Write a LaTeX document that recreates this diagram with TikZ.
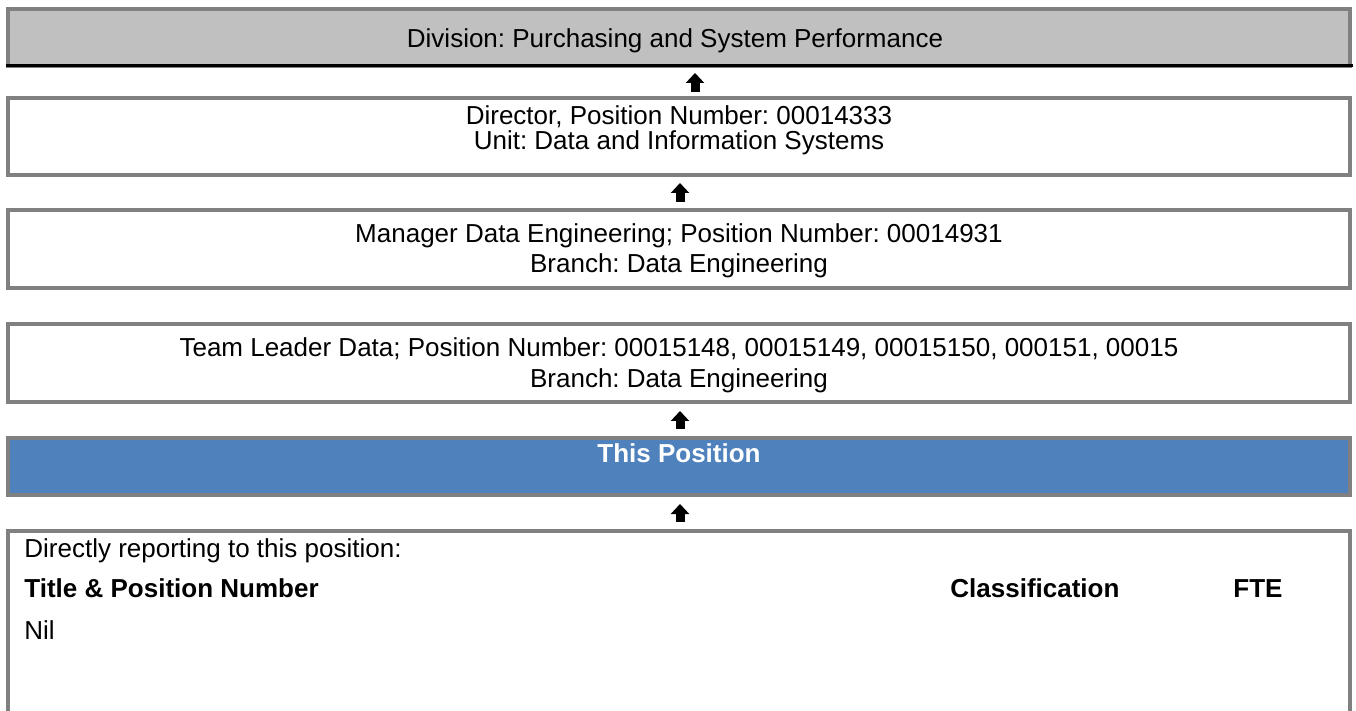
\documentclass[tikz,border=0pt]{standalone}
\usepackage{fontspec}
\setmainfont{Liberation Sans}
\usetikzlibrary{arrows.meta}
\definecolor{boxgray}{RGB}{128,128,128}
\definecolor{divfill}{RGB}{192,192,192}
\definecolor{posblue}{RGB}{79,129,189}
\frenchspacing

\tikzset{
  box/.style={draw=boxgray, line width=2pt, minimum width=671pt, inner sep=0pt},
  txt/.style={inner sep=0pt, anchor=base, font=\fontsize{13}{15}\selectfont},
  bold/.style={font=\fontsize{13}{15}\selectfont\bfseries},
  uparrow/.style={line width=4.5pt, -{Triangle[width=9pt,length=5pt]}, shorten <=3pt, shorten >=3pt}
}

\begin{document}
\begin{tikzpicture}[x=0.5pt, y=-0.5pt]
\useasboundingbox (0,0) rectangle (1356,711);
% boxes
\node[box, fill=divfill, minimum height=28.5pt] (div) at (679,37.5) {};
\draw[line width=1.5pt] ([yshift=1pt]div.south west) -- ([xshift=0.5pt,yshift=1pt]div.south east);
\node[box, minimum height=38.25pt] (dir) at (679,136.75) {};
\node[box, minimum height=39pt] (mgr) at (679,249) {};
\node[box, minimum height=39pt] (tl) at (679,363) {};
\node[box, fill=posblue, minimum height=28.5pt] (pos) at (679,466.5) {};
\node[box, minimum height=114.5pt] (rep) at (679,645.5) {};

% texts
\node[txt] (divtext) at (675,47.5) {Division: Purchasing and System Performance};
\node[txt] (dir1) at (679,125) {Director, Position Number: 00014333};
\node[txt] (dir2) at (679,150) {Unit: Data and Information Systems};
\node[txt] (mgr1) at (679,243) {Manager Data Engineering; Position Number: 00014931};
\node[txt] (mgr2) at (679,273) {Branch: Data Engineering};
\node[txt] (tl1) at (679,357) {Team Leader Data; Position Number: 00015148, 00015149, 00015150, 000151, 00015};
\node[txt] (tl2) at (679,387) {Branch: Data Engineering};
\node[txt, bold, text=white] (postext) at (679,463) {This Position};
\node[txt, anchor=base west] (reptext) at (24,557) {Directly reporting to this position:};
\node[txt, bold, anchor=base west] (coltitle) at (24,597) {Title \& Position Number};
\node[txt, bold, anchor=base west] (colclass) at (950,597) {Classification};
\node[txt, bold, anchor=base west] (colfte) at (1233,597) {FTE};
\node[txt, anchor=base west] (nil) at (24,639) {Nil};

% arrows
\draw[uparrow, shorten <=2.25pt, shorten >=2.5pt] ([xshift=8pt]dir.north) -- ([xshift=8pt]div.south);
\draw[uparrow] ([xshift=0.5pt]mgr.north) -- ([xshift=0.5pt]dir.south);
\draw[uparrow, shorten <=3.5pt, shorten >=3.5pt] ([xshift=0.5pt]pos.north) -- ([xshift=0.5pt]tl.south);
\draw[uparrow, shorten <=3.5pt, shorten >=3.5pt] ([xshift=0.5pt]rep.north) -- ([xshift=0.5pt]pos.south);
\end{tikzpicture}
\end{document}
